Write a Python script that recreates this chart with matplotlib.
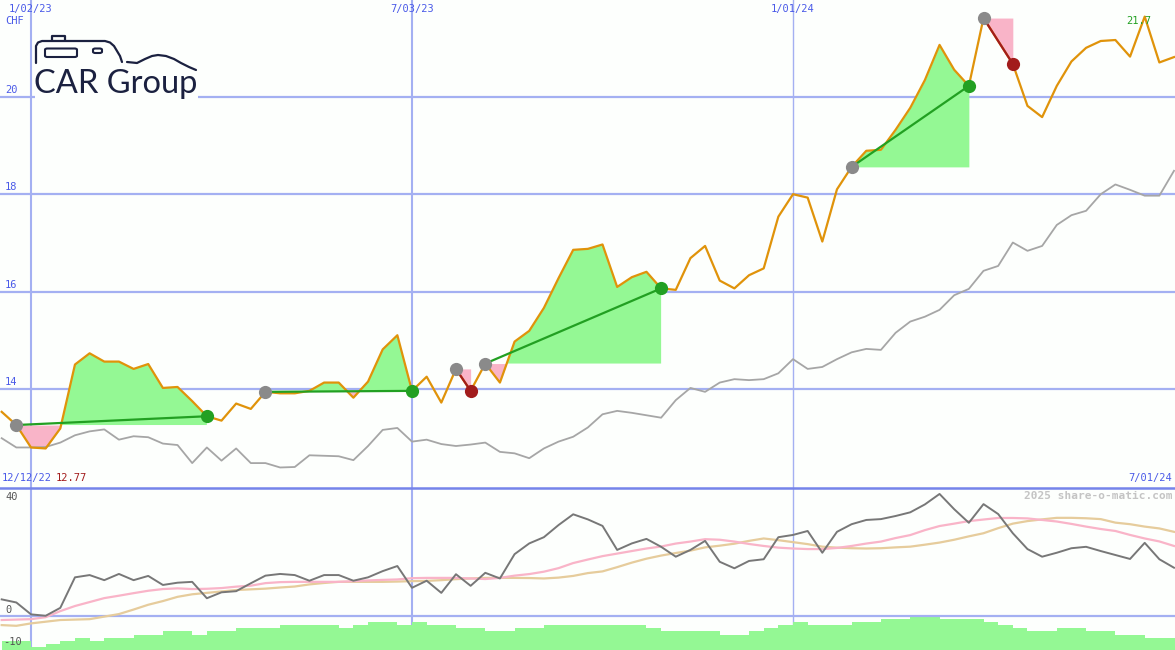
import numpy as np
import matplotlib.pyplot as plt
from matplotlib.patches import Rectangle, FancyBboxPatch
from matplotlib.lines import Line2D

# weeks counted from 1/02/23, first point = 12/12/22
weeks = np.arange(-2, 79)

price = [13.54, 13.27, 12.81, 12.79, 13.20, 14.51, 14.74, 14.57, 14.57, 14.42,
         14.52, 14.03, 14.05, 13.76, 13.45, 13.36, 13.71, 13.60, 13.95, 13.92,
         13.92, 13.97, 14.14, 14.14, 13.83, 14.16, 14.82, 15.11, 13.97, 14.26,
         13.73, 14.42, 13.97, 14.53, 14.14, 14.98, 15.20, 15.67, 16.28, 16.86,
         16.88, 16.97, 16.10, 16.30, 16.41, 16.07, 16.04, 16.69, 16.94, 16.23,
         16.07, 16.34, 16.48, 17.54, 18.00, 17.93, 17.03, 18.10, 18.56, 18.89,
         18.91, 19.32, 19.77, 20.34, 21.06, 20.55, 20.22, 21.61, 21.14, 20.67,
         19.81, 19.58, 20.22, 20.72, 21.00, 21.14, 21.16, 20.82, 21.64, 20.70,
         20.81]

index = [13.00, 12.81, 12.81, 12.82, 12.91, 13.06, 13.14, 13.18, 12.97, 13.04,
         13.02, 12.89, 12.86, 12.49, 12.81, 12.54, 12.79, 12.49, 12.49, 12.40,
         12.41, 12.65, 12.64, 12.63, 12.55, 12.84, 13.17, 13.21, 12.93, 12.97,
         12.88, 12.84, 12.87, 12.91, 12.72, 12.69, 12.59, 12.79, 12.93, 13.03,
         13.22, 13.49, 13.56, 13.52, 13.47, 13.42, 13.78, 14.03, 13.95, 14.14,
         14.21, 14.19, 14.21, 14.33, 14.62, 14.42, 14.46, 14.62, 14.76, 14.83,
         14.81, 15.16, 15.39, 15.49, 15.63, 15.93, 16.06, 16.43, 16.53, 17.01,
         16.84, 16.94, 17.37, 17.57, 17.66, 18.00, 18.20, 18.09, 17.97, 17.97,
         18.48]

momentum = [5.8, 4.7, 0.5, 0.0, 2.8, 13.6, 14.4, 12.6, 14.8, 12.6,
            14.1, 10.9, 11.7, 12.0, 6.2, 8.3, 8.7, 11.5, 14.2, 14.8,
            14.4, 12.4, 14.4, 14.4, 12.4, 13.6, 15.8, 17.6, 9.9, 12.4,
            8.1, 14.7, 10.6, 15.2, 13.2, 21.8, 25.6, 27.8, 32.1, 35.9,
            34.1, 31.8, 23.3, 25.6, 27.2, 24.4, 20.9, 23.3, 26.5, 19.1,
            16.8, 19.4, 20.0, 27.8, 28.6, 30.0, 22.3, 29.7, 32.4, 33.9,
            34.2, 35.3, 36.6, 39.4, 43.1, 37.7, 32.9, 39.5, 36.0, 29.2,
            23.6, 20.9, 22.3, 23.9, 24.4, 22.9, 21.5, 20.1, 25.8, 20.0,
            17.0]

ma_fast = [-1.5, -1.35, -1.2, -0.5, 1.65, 3.45, 4.85, 6.25, 7.1, 8.0,
           8.85, 9.45, 9.7, 9.45, 9.55, 9.8, 10.3, 10.65, 11.55, 11.9,
           12.0, 12.0, 12.0, 12.0, 12.25, 12.5, 12.7, 12.85, 13.3, 13.4,
           13.4, 13.4, 13.2, 13.0, 13.4, 14.2, 14.75, 15.6, 16.85, 18.65,
           19.9, 21.1, 22.0, 22.9, 23.8, 24.5, 25.55, 26.25, 27.1, 26.9,
           26.25, 25.4, 24.7, 24.1, 23.8, 23.6, 23.6, 24.0, 24.7, 25.55,
           26.25, 27.5, 28.55, 30.3, 31.75, 32.6, 33.5, 34.05, 34.6, 34.6,
           34.45, 33.9, 33.35, 32.5, 31.55, 30.7, 30.0, 28.6, 27.35, 26.3,
           24.7]

ma_slow = [-3.3, -3.55, -2.7, -2.1, -1.5, -1.35, -1.2, -0.3, 0.6, 2.2,
           3.9, 5.2, 6.7, 7.6, 8.1, 8.6, 9.1, 9.35, 9.6, 10.0,
           10.35, 11.1, 11.6, 12.0, 12.0, 12.0, 12.0, 12.1, 12.25, 12.35,
           12.6, 12.95, 13.2, 13.4, 13.4, 13.4, 13.35, 13.2, 13.5, 14.1,
           15.1, 15.7, 17.2, 18.8, 20.2, 21.3, 22.2, 23.05, 24.2, 24.8,
           25.5, 26.5, 27.35, 26.75, 26.05, 25.35, 24.45, 24.1, 23.9, 23.8,
           23.9, 24.2, 24.45, 25.15, 25.9, 26.9, 28.1, 29.2, 31.0, 32.6,
           33.5, 34.1, 34.65, 34.65, 34.5, 34.2, 32.95, 32.4, 31.55, 30.9,
           29.7]

bars = [-8.85, -8.85, -11.0, -10.0, -8.95, -7.8, -8.85, -7.8, -7.8, -6.8,
        -6.8, -5.4, -5.4, -6.8, -5.4, -5.4, -4.25, -4.25, -4.25, -3.3,
        -3.3, -3.3, -3.3, -4.25, -3.3, -2.35, -2.35, -3.3, -2.35, -3.3,
        -3.3, -4.25, -4.25, -5.4, -5.4, -4.25, -4.25, -3.3, -3.3, -3.3,
        -3.3, -3.3, -3.3, -3.3, -4.25, -5.4, -5.4, -5.4, -5.4, -6.8,
        -6.8, -5.4, -4.25, -3.3, -2.35, -3.3, -3.3, -3.3, -2.35, -2.35,
        -1.2, -1.2, -0.1, -0.1, -1.2, -1.2, -1.2, -2.35, -3.3, -4.25,
        -5.4, -5.4, -4.25, -4.25, -5.4, -5.4, -6.8, -6.8, -7.8, -7.8,
        -7.8]

entries = [-1, 16, 29, 31, 56, 65]
exits = [12, 26, 30, 43, 64, 67]

date_ticks = [0, 26, 52]
date_labels = ['1/02/23', '7/03/23', '1/01/24']
price_ticks = [14, 16, 18, 20]

bg = '#fdfffd'
grid = '#a4b0f2'
blue = '#4a5ae8'
green_fill = '#94f894'
pink_fill = '#f9b4c8'
mono = 'DejaVu Sans Mono'

price = np.array(price)
x0, x1 = -31 / 14.654, (1175 - 31) / 14.654

fig = plt.figure(figsize=(11.75, 6.5), dpi=100)
fig.patch.set_facecolor(bg)
ax = fig.add_axes([0, 163 / 650, 1, 487 / 650])
ax2 = fig.add_axes([0, 0, 1, 163 / 650])
for a in (ax, ax2):
    a.set_facecolor(bg)
    a.set_xlim(x0, x1)
    a.set_xticks([])
    a.set_yticks([])
    for s in a.spines.values():
        s.set_visible(False)
    for d in date_ticks:
        a.axvline(d, color=grid, lw=1.5 if d < 52 else 1.0, zorder=1)

ax.set_ylim(12.0, 21.98)
ax2.set_ylim(-12.11, 45.56)

# top panel grid + labels
for t in price_ticks:
    ax.axhline(t, color=grid, lw=1.6, zorder=1)
    ax.text(0.0043, t + 0.04, str(t), transform=ax.get_yaxis_transform(),
            fontsize=7.5, family=mono, color=blue, va='bottom', ha='left')
ax.text(0.0043, 0.957, 'CHF', transform=ax.transAxes, fontsize=7.5,
        family=mono, color=blue, va='center', ha='left')
for d, lab in zip(date_ticks, date_labels):
    ax.text(d, 0.982, lab, transform=ax.get_xaxis_transform(), fontsize=7.5,
            family=mono, color=blue, va='center', ha='center')

# trades: shaded gain/loss versus entry level
for e, x in zip(entries, exits):
    s, t = e + 2, x + 2
    xs = weeks[s:t + 1]
    ys = price[s:t + 1]
    lev = price[s]
    ax.fill_between(xs, ys, lev, where=ys >= lev, interpolate=True,
                    color=green_fill, lw=0, zorder=2)
    ax.fill_between(xs, ys, lev, where=ys <= lev, interpolate=True,
                    color=pink_fill, lw=0, zorder=2)

ax.plot(weeks, index, color='#a6a6a6', lw=1.3, zorder=3)
ax.plot(weeks, price, color='#e0930a', lw=1.6, zorder=4)

for e, x in zip(entries, exits):
    s, t = e + 2, x + 2
    win = price[t] >= price[s]
    c = '#22a022' if win else '#a21c1c'
    ax.plot([weeks[s], weeks[t]], [price[s], price[t]], color=c, lw=1.6, zorder=5)
    ax.plot(weeks[s], price[s], 'o', ms=9.5, color='#8a8a8a', mec='none', zorder=6)
    ax.plot(weeks[t], price[t], 'o', ms=9.5, color=c, mec='none', zorder=6)

ax.annotate('21.7', (weeks[np.argmax(price)], price.max()), xytext=(-4, -3),
            textcoords='offset points', ha='center', va='center',
            fontsize=7.5, family=mono, color='#22a022', zorder=7)

ax.text(0.0017, 0.0185, '12/12/22', transform=ax.transAxes, fontsize=7.5,
        family=mono, color=blue, va='center', ha='left')
ax.text(0.047, 0.0185, '12.77', transform=ax.transAxes, fontsize=7.5,
        family=mono, color='#a21c1c', va='center', ha='left')
ax.text(0.9975, 0.0185, '7/01/24', transform=ax.transAxes, fontsize=7.5,
        family=mono, color=blue, va='center', ha='right')

# bottom panel
ax2.bar(weeks + 0.5, np.array(bars) + 12.11, width=1.0, bottom=-12.11,
        color=green_fill, lw=0, zorder=1)
ax2.axhline(0, color=grid, lw=1.6, zorder=2)
ax2.axhline(45.3, color='#7584ea', lw=1.8, zorder=2)
ax2.plot(weeks, ma_slow, color='#e6cc9c', lw=1.6, zorder=3)
ax2.plot(weeks, ma_fast, color='#f9b4c8', lw=1.6, zorder=3)
ax2.plot(weeks, momentum, color='#777777', lw=1.4, zorder=4)
ax2.text(0.0043, 40.3, '40', transform=ax2.get_yaxis_transform(), fontsize=7.5,
         family=mono, color='#555555', va='bottom', ha='left')
ax2.text(0.0043, 0.3, '0', transform=ax2.get_yaxis_transform(), fontsize=7.5,
         family=mono, color='#555555', va='bottom', ha='left')
ax2.text(0.0025, -9.3, '-10', transform=ax2.get_yaxis_transform(), fontsize=7.5,
         family=mono, color='#555555', va='center', ha='left')
ax2.text(0.9975, 0.945, '2025 share-o-matic.com', transform=ax2.transAxes,
         fontsize=8, family=mono, weight='bold', color='#c4c4c4',
         va='center', ha='right', zorder=5)

# logo
def px(x, y):
    return x / 1175, 1 - y / 650

navy = '#1b2140'
lx, ly = px(35, 30)
rx, ry = px(198, 102)
fig.patches.append(Rectangle((lx, ry), rx - lx, ly - ry, transform=fig.transFigure,
                             facecolor=bg, edgecolor='none', zorder=8))
outline = [(36, 63), (36, 46), (38, 42.5), (42, 41), (105, 41), (110, 42.5),
           (114, 46), (120, 56), (122, 62)]
handle = [(52, 40), (52, 35.5), (65, 35.5), (65, 40)]
swoosh = [(127, 62), (137, 63), (145, 59), (152, 56), (158, 55), (166, 56),
          (174, 59), (181, 63), (189, 67), (196, 70)]
for path in (outline, handle, swoosh):
    pts = [px(a, b) for a, b in path]
    fig.lines.append(Line2D([p[0] for p in pts], [p[1] for p in pts],
                            transform=fig.transFigure, color=navy, lw=1.6,
                            solid_capstyle='round', zorder=9))
for (ax_, ay_), (bx_, by_) in [((45, 48.5), (77, 57)), ((93, 48.5), (102, 53))]:
    p0 = px(ax_, by_)
    p1 = px(bx_, ay_)
    fig.patches.append(FancyBboxPatch(p0, p1[0] - p0[0], p1[1] - p0[1],
                                      boxstyle='round,pad=0,rounding_size=0.002',
                                      transform=fig.transFigure, facecolor='none',
                                      edgecolor=navy, lw=1.5, zorder=9))
tx, ty = px(34, 93)
fig.text(tx, ty, 'CAR Group', family='Lato', fontsize=23.5, color=navy,
         ha='left', va='baseline', zorder=10)

fig.savefig('out.png', dpi=100, facecolor=bg)
